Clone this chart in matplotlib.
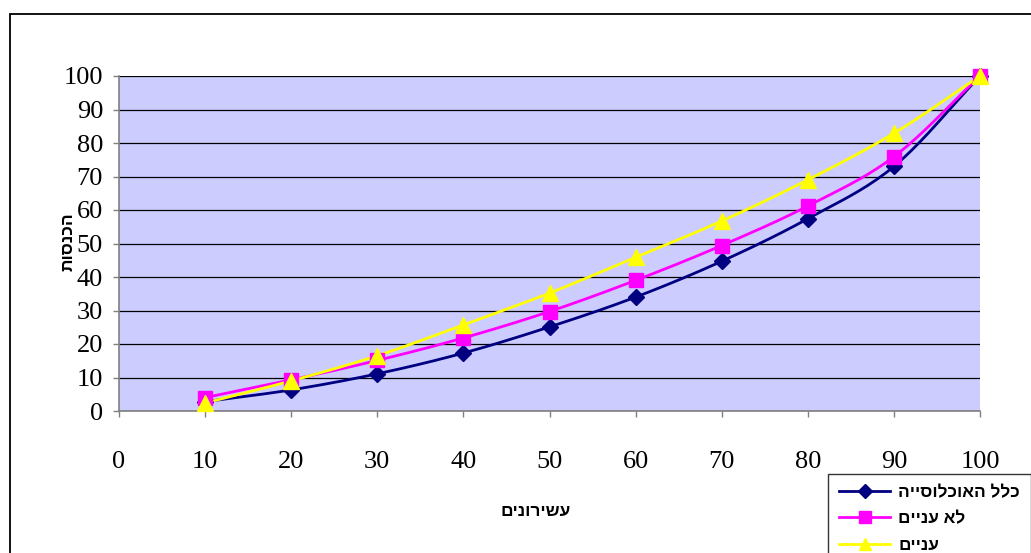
import numpy as np
import matplotlib
matplotlib.use("Agg")
import matplotlib.pyplot as plt
from matplotlib.patches import Rectangle
from matplotlib.lines import Line2D

# ---- data ----
deciles = [10, 20, 30, 40, 50, 60, 70, 80, 90, 100]
total_pop = [2.8, 6.3, 11.1, 17.3, 25.1, 34.0, 44.7, 57.4, 73.0, 100]
non_poor = [4.0, 9.3, 15.1, 21.8, 29.7, 39.0, 49.4, 61.2, 75.9, 100]
poor = [2.4, 9.0, 16.5, 25.7, 35.2, 45.9, 56.7, 69.0, 82.9, 100]
series_names = ["כלל האוכלוסייה", "לא עניים", "עניים"]
x_label = "עשירונים"
y_label = "הכנסות"
x_ticks = [0, 10, 20, 30, 40, 50, 60, 70, 80, 90, 100]
y_ticks = [0, 10, 20, 30, 40, 50, 60, 70, 80, 90, 100]


def vis(s):
    # matplotlib has no bidi support: present Hebrew in visual order
    return s[::-1]


def smooth(x, y, n=20):
    x = np.asarray(x, float)
    y = np.asarray(y, float)
    px = np.concatenate([[2 * x[0] - x[1]], x, [2 * x[-1] - x[-2]]])
    py = np.concatenate([[2 * y[0] - y[1]], y, [2 * y[-1] - y[-2]]])
    xs, ys = [], []
    t = np.linspace(0, 1, n, endpoint=False)
    for i in range(1, len(px) - 2):
        p0, p1, p2, p3 = (np.array([px[j], py[j]]) for j in range(i - 1, i + 3))
        for tt in t:
            pt = 0.5 * ((2 * p1) + (-p0 + p2) * tt + (2 * p0 - 5 * p1 + 4 * p2 - p3) * tt ** 2
                        + (-p0 + 3 * p1 - 3 * p2 + p3) * tt ** 3)
            xs.append(pt[0]); ys.append(pt[1])
    xs.append(x[-1]); ys.append(y[-1])
    return np.array(xs), np.array(ys)


W, H = 1031, 553
fig = plt.figure(figsize=(W / 100, H / 100), dpi=100)
fig.patch.set_facecolor("white")

L, R, T, B = 119, 980, 76, 411
ax = fig.add_axes([L / W, 1 - B / H, (R - L) / W, (B - T) / H])
ax.set_facecolor("#CCCCFF")
ax.set_xlim(0, 100)
ax.set_ylim(0, 100)

for sp in ["top", "right"]:
    ax.spines[sp].set_visible(False)
for sp in ["left", "bottom"]:
    ax.spines[sp].set_color("#808080")
    ax.spines[sp].set_linewidth(1.2)

ax.set_yticks(y_ticks)
ax.set_xticks(x_ticks)
ax.yaxis.grid(True, color="black", linewidth=0.9)
ax.set_axisbelow(True)
ax.tick_params(axis="both", direction="out", length=4.5, width=1, color="#808080",
               labelsize=19)
ax.tick_params(axis="x", pad=24)
ax.tick_params(axis="y", pad=7)
for lab in ax.get_xticklabels() + ax.get_yticklabels():
    lab.set_fontfamily("Liberation Serif")

styles = [
    dict(color="#000080", marker="D", ms=8),
    dict(color="#FF00FF", marker="s", ms=10),
    dict(color="#FFFF00", marker="^", ms=11),
]
handles = []
for yv, st, name in zip([total_pop, non_poor, poor], styles, series_names):
    sx, sy = smooth(deciles, yv)
    ax.plot(sx, sy, color=st["color"], lw=2, clip_on=False, zorder=3)
    ax.plot(deciles, yv, linestyle="none", marker=st["marker"], ms=st["ms"],
            color=st["color"], mec=st["color"], clip_on=False, zorder=4)
    handles.append(Line2D([], [], color=st["color"], lw=2, marker=st["marker"],
                          ms=st["ms"] * 0.85, mec=st["color"]))

fig.text(536 / W, 1 - 512 / H, vis(x_label), ha="center", va="center",
         fontsize=12.5, fontweight="bold", family="Liberation Sans")
fig.text(68 / W, 1 - 242 / H, vis(y_label), ha="center", va="center", rotation=90,
         fontsize=12.5, fontweight="bold", family="Liberation Sans")

leg = fig.legend(handles, [vis(n) for n in series_names], loc="upper left",
                 bbox_to_anchor=(828 / W, 1 - 474 / H), frameon=True, fancybox=False,
                 edgecolor="black", handlelength=3.0, handletextpad=0.45,
                 labelspacing=0.68, borderpad=0.62, borderaxespad=0,
                 prop=dict(family="Liberation Sans", weight="bold", size=12.4))
leg.get_frame().set_linewidth(1.0)

fig.add_artist(Rectangle((10 / W, -0.1), 1.2, 1 - 14 / H + 0.1, transform=fig.transFigure,
                         fill=False, edgecolor="black", linewidth=1.3, clip_on=False))

fig.savefig("out.png", dpi=100)
